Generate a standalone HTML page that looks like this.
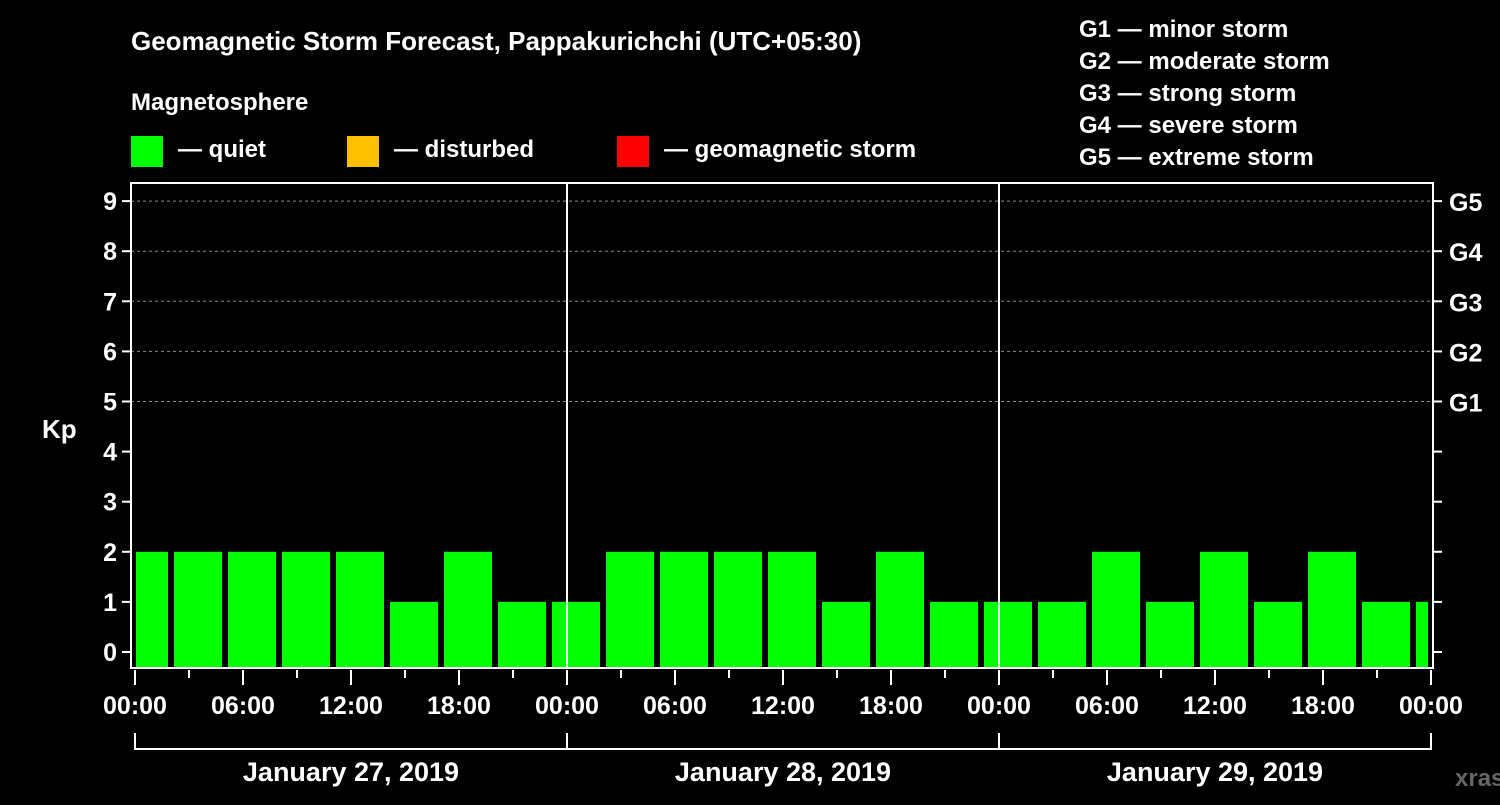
<!DOCTYPE html>
<html><head><meta charset="utf-8"><style>
body{margin:0;background:#000;}
svg text{font-family:"Liberation Sans",sans-serif;font-weight:bold;fill:#fff;}
</style></head><body>
<svg width="1500" height="800" viewBox="0 0 1500 800">
<rect width="1500" height="800" fill="#000"/>
<text x="131" y="50" font-size="26">Geomagnetic Storm Forecast, Pappakurichchi (UTC+05:30)</text>
<text x="131" y="110" font-size="24">Magnetosphere</text>
<g><rect x="131" y="136" width="32" height="31" fill="#00ff00"/><text x="178" y="157" font-size="24">— quiet</text></g>
<g><rect x="347" y="136" width="32" height="31" fill="#ffc000"/><text x="394" y="157" font-size="24">— disturbed</text></g>
<g><rect x="617" y="136" width="32" height="31" fill="#ff0000"/><text x="664" y="157" font-size="24">— geomagnetic storm</text></g>
<g font-size="24">
<text x="1079" y="37">G1 — minor storm</text><text x="1079" y="69">G2 — moderate storm</text><text x="1079" y="101">G3 — strong storm</text><text x="1079" y="133">G4 — severe storm</text><text x="1079" y="165">G5 — extreme storm</text>
</g>
<g id="plot"></g>
<text x="42" y="438" font-size="26">Kp</text>
<text x="1455" y="786" font-size="24" fill="#555" style="fill:#666">xras.ru</text>
</svg>
<script>
const values=[2,2,2,2,2,1,2,1,1,2,2,2,2,1,2,1,1,1,2,1,2,1,2,1,1];
const kpTicks=[0,1,2,3,4,5,6,7,8,9];
const gLabels=["G1","G2","G3","G4","G5"];
const timeLabels=["00:00","06:00","12:00","18:00","00:00","06:00","12:00","18:00","00:00","06:00","12:00","18:00","00:00"];
const dayLabels=["January 27, 2019","January 28, 2019","January 29, 2019"];
const NS="http://www.w3.org/2000/svg";
const g=document.getElementById('plot');
const L=131,R=1433,T=183,B=668,X0=135;
const y=v=>652-v*50.1;
const xh=h=>X0+h*18; // hours from start
function el(t,a,p){const e=document.createElementNS(NS,t);for(const k in a)e.setAttribute(k,a[k]);(p||g).appendChild(e);return e;}
// gridlines
kpTicks.forEach(k=>{if(k>=5){const l=el('line',{x1:L,x2:R,y1:y(k),y2:y(k),stroke:'#888','stroke-dasharray':'3,3','stroke-width':1});

}
const lt=el('line',{x1:L-9,x2:L,y1:y(k),y2:y(k),stroke:'#fff','stroke-width':2});


const rt=el('line',{x1:R,x2:R+9,y1:y(k),y2:y(k),stroke:'#fff','stroke-width':2});


const t=el('text',{x:L-14,y:y(k)+9,'font-size':25,'text-anchor':'end'});t.textContent=k;

});
gLabels.forEach((s,i)=>{const t=el('text',{x:1449,y:y(5+i)+10,'font-size':25});t.textContent=s;

});
// bars
values.forEach((v,i)=>{let s=X0-15+54*i,e=s+48;s=Math.max(s,X0+1);e=Math.min(e,1428);
const b=el('rect',{x:s,y:y(v),width:e-s,height:B-y(v),fill:v>=5?'#ff0000':v>=4?'#ffc000':'#00ff00'});

});
// day separators
[1,2].forEach(d=>{const l=el('line',{x1:xh(24*d),x2:xh(24*d),y1:T,y2:B,stroke:'#fff','stroke-width':2});

});
const f=el('rect',{x:L,y:T,width:R-L,height:B-T,fill:'none',stroke:'#fff','stroke-width':2});


// x ticks
for(let h=0;h<=72;h+=3){const maj=h%6==0;const l=el('line',{x1:xh(h),x2:xh(h),y1:B+2,y2:B+(maj?17:10),stroke:'#fff','stroke-width':2});

}
timeLabels.forEach((s,i)=>{const t=el('text',{x:xh(i*6),y:714,'font-size':25,'text-anchor':'middle'});t.textContent=s;

});
dayLabels.forEach((s,i)=>{const p=el('path',{d:`M${xh(24*i)},733V749H${xh(24*i+24)}V733`,stroke:'#fff','stroke-width':2,fill:'none'});


const t=el('text',{x:xh(24*i+12),y:781,'font-size':27,'text-anchor':'middle'});t.textContent=s;

});
</script>
</body></html>
